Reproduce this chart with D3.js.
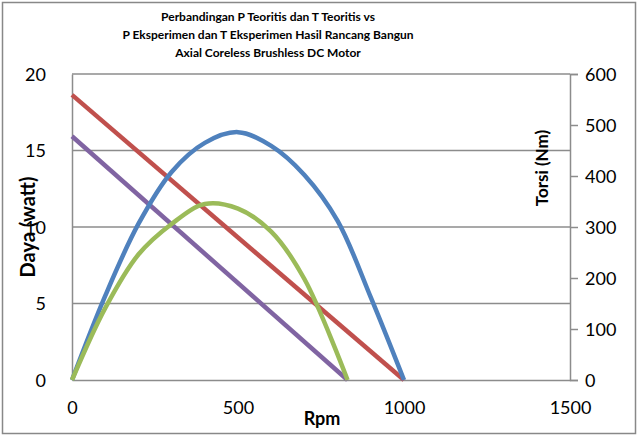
<!DOCTYPE html>
<html>
<head>
<meta charset="utf-8">
<script src="https://cdn.jsdelivr.net/npm/d3@7"></script>
<style>
  body { margin: 0; background: #fff; }
  svg { display: block; }
</style>
</head>
<body>
<svg id="chart" width="639" height="437"></svg>
<script>
// data
const titleLines = [
    "Perbandingan P Teoritis dan T Teoritis vs",
    "P Eksperimen dan T Eksperimen Hasil Rancang Bangun",
    "Axial Coreless Brushless DC Motor"
];
const xTicks = [0, 500, 1000, 1500];
const leftTicks = [0, 5, 10, 15, 20];
const rightTicks = [0, 100, 200, 300, 400, 500, 600];

// P teoritis (blue, watt)
const rpmTeori = [0, 100, 200, 300, 400, 500, 600, 700, 800, 900, 1000];
const dayaTeori = [0, 5.5, 10.2, 13.6, 15.5, 16.2, 15.3, 13.4, 10.4, 5.4, 0];
// P eksperimen (green, watt)
const rpmEksp = [0, 100, 200, 300, 400, 500, 600, 700, 830];
const dayaEksp = [0, 4.7, 8.2, 10.2, 11.5, 11.2, 9.7, 6.6, 0];
// T teoritis (red, Nm) and T eksperimen (purple, Nm)
const rpmTorsiTeori = [0, 1000];
const torsiTeori = [559, 0];
const rpmTorsiEksp = [0, 830];
const torsiEksp = [478, 0];

const svg = d3.select("#chart");
const font = "Lato, 'Open Sans', sans-serif";

const x = d3.scaleLinear().domain([0, 1500]).range([72, 570]);
const yL = d3.scaleLinear().domain([0, 20]).range([380, 74]);
const yR = d3.scaleLinear().domain([0, 600]).range([380, 74]);

// outer frame
svg.append("rect")
    .attr("x", 2.5).attr("y", 2.5)
    .attr("width", 633).attr("height", 431)
    .attr("fill", "#fff")
    .attr("stroke", "#888").attr("stroke-width", 1.5);

// title
svg.append("g").selectAll("text")
    .data(titleLines)
    .enter().append("text")
    .attr("x", 268)
    .attr("y", (d, i) => 21 + i * 18)
    .attr("text-anchor", "middle")
    .style("font-family", font)
    .style("font-weight", "bold")
    .style("font-size", "12px")
    .text(d => d);

// gridlines (left scale)
svg.append("g").selectAll("line")
    .data(leftTicks.filter(d => d > 0))
    .enter().append("line")
    .attr("x1", x(0)).attr("x2", x(1500))
    .attr("y1", d => yL(d)).attr("y2", d => yL(d))
    .attr("stroke", "#8c8c8c").attr("stroke-width", 1.5);

// axes
const axisColor = "#8c8c8c";
const fmt = d3.format("d");
const gLeft = svg.append("g").attr("transform", `translate(${x(0)},0)`)
    .call(d3.axisLeft(yL).tickValues(leftTicks).tickFormat(fmt).tickSize(0).tickPadding(26));
const gRight = svg.append("g").attr("transform", `translate(${x(1500)},0)`)
    .call(d3.axisRight(yR).tickValues(rightTicks).tickFormat(fmt).tickSize(8).tickPadding(7));
const gBottom = svg.append("g").attr("transform", `translate(0,${yL(0)})`)
    .call(d3.axisBottom(x).tickValues(xTicks).tickFormat(fmt).tickSize(0).tickPadding(21));

[gLeft, gRight, gBottom].forEach(g => {
    g.select(".domain").attr("stroke", axisColor).attr("stroke-width", 1.5);
    g.selectAll(".tick line").attr("stroke", axisColor).attr("stroke-width", 1.5);
    g.selectAll(".tick text")
        .style("font-family", font)
        .style("font-size", "18px")
        .attr("fill", "#000");
});
gLeft.selectAll(".tick text").attr("dy", "0.35em");
gRight.selectAll(".tick text").attr("dy", "0.35em");

// axis titles
svg.append("text")
    .attr("transform", "translate(35,227) rotate(-90)")
    .attr("text-anchor", "middle")
    .style("font-family", font).style("font-weight", "bold").style("font-size", "20px")
    .text("Daya (watt)");
svg.append("text")
    .attr("transform", "translate(548,168) rotate(-90)")
    .attr("text-anchor", "middle")
    .style("font-family", font).style("font-weight", "bold").style("font-size", "17px")
    .text("Torsi (Nm)");
svg.append("text")
    .attr("x", 322).attr("y", 425)
    .attr("text-anchor", "middle")
    .style("font-family", font).style("font-weight", "bold").style("font-size", "18px")
    .text("Rpm");

// series
const lineR = d3.line().x(d => x(d[0])).y(d => yR(d[1]));
const lineL = d3.line().x(d => x(d[0])).y(d => yL(d[1])).curve(d3.curveCatmullRom.alpha(0.5));

const series = [
    { pts: d3.zip(rpmTorsiTeori, torsiTeori), gen: lineR, color: "#C0504D" },
    { pts: d3.zip(rpmTorsiEksp, torsiEksp), gen: lineR, color: "#8064A2" },
    { pts: d3.zip(rpmTeori, dayaTeori), gen: lineL, color: "#4F81BD" },
    { pts: d3.zip(rpmEksp, dayaEksp), gen: lineL, color: "#9BBB59" }
];

svg.append("g").selectAll("path")
    .data(series)
    .enter().append("path")
    .attr("d", d => d.gen(d.pts))
    .attr("fill", "none")
    .attr("stroke", d => d.color)
    .attr("stroke-width", 4.5)
    .attr("stroke-linejoin", "round");
</script>
</body>
</html>
